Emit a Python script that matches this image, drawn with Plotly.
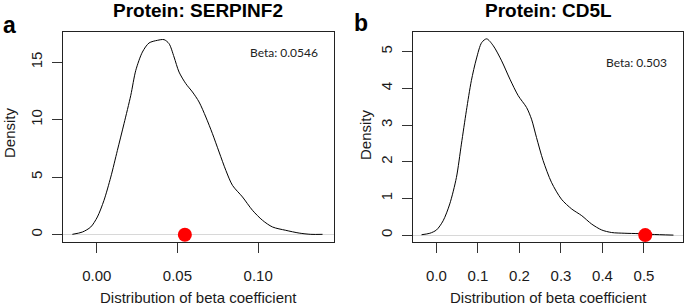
import plotly.graph_objects as go

# ---------------- data ----------------
a_title = "Protein: SERPINF2"
a_beta = 0.0546
a_x = [-0.0151, -0.0089, -0.0037, 0.0004, 0.0045, 0.0087, 0.0128, 0.0169, 0.0211, 0.0242,
       0.0283, 0.0324, 0.0376, 0.0417, 0.0448, 0.0479, 0.0510, 0.0552, 0.0593, 0.0634,
       0.0676, 0.0717, 0.0758, 0.0800, 0.0841, 0.0903, 0.0965, 0.1027, 0.1089, 0.1171,
       0.1254, 0.1326, 0.1399]
a_y = [0.03, 0.23, 0.67, 1.54, 2.99, 5.01, 7.33, 9.65, 12.12, 14.29,
       15.88, 16.67, 16.9, 16.96, 16.61, 15.45, 14.14, 13.13, 12.41, 11.54,
       10.23, 8.78, 7.19, 5.59, 4.29, 3.28, 2.12, 1.25, 0.67, 0.38,
       0.14, 0.03, 0.03]
a_xticks = [0, 0.05, 0.10]
a_xticklabels = ["0.00", "0.05", "0.10"]
a_yticks = [0, 5, 10, 15]

b_title = "Protein: CD5L"
b_beta = 0.503
b_x = [-0.036, -0.016, 0.0, 0.016, 0.032, 0.048, 0.060, 0.072, 0.084, 0.096,
       0.109, 0.121, 0.137, 0.157, 0.177, 0.197, 0.217, 0.229, 0.241, 0.257,
       0.277, 0.301, 0.326, 0.350, 0.374, 0.398, 0.422, 0.454, 0.486, 0.518,
       0.571]
b_y = [0.01, 0.05, 0.14, 0.39, 0.85, 1.57, 2.48, 3.39, 4.21, 4.8,
       5.25, 5.35, 5.16, 4.75, 4.25, 3.8, 3.48, 3.16, 2.66, 2.03,
       1.44, 0.98, 0.71, 0.53, 0.3, 0.14, 0.07, 0.05, 0.04, 0.02,
       0.0]
b_xticks = [0, 0.1, 0.2, 0.3, 0.4, 0.5]
b_xticklabels = ["0.0", "0.1", "0.2", "0.3", "0.4", "0.5"]
b_yticks = [0, 1, 2, 3, 4, 5]

x_label = "Distribution of beta coefficient"
y_label = "Density"

# ---------------- figure ----------------
W, H = 685, 305
fig = go.Figure()

line_style = dict(color="black", width=1, shape="spline", smoothing=0.8)
fig.add_trace(go.Scatter(x=a_x, y=a_y, mode="lines", line=line_style,
                         xaxis="x", yaxis="y", hoverinfo="skip"))
fig.add_trace(go.Scatter(x=[a_beta], y=[0], mode="markers", marker=dict(color="#ff0000", size=14),
                         xaxis="x", yaxis="y", cliponaxis=False))
fig.add_trace(go.Scatter(x=b_x, y=b_y, mode="lines", line=line_style,
                         xaxis="x2", yaxis="y2", hoverinfo="skip"))
fig.add_trace(go.Scatter(x=[b_beta], y=[0], mode="markers", marker=dict(color="#ff0000", size=14),
                         xaxis="x2", yaxis="y2", cliponaxis=False))

tickfont = dict(family="Liberation Sans, Arial, sans-serif", size=15, color="#1a1a1a")

def xax(domain, rng, tv, tt):
    return dict(domain=domain, range=rng, tickvals=tv, ticktext=tt, ticks="outside", ticklen=10,
                tickcolor="#333", tickwidth=1, showline=True, mirror=True, linecolor="#222",
                linewidth=1, showgrid=False, zeroline=False, tickfont=tickfont,
                ticklabelstandoff=10, fixedrange=True)

def yax(anchor, domain, rng, tv):
    return dict(anchor=anchor, domain=domain, range=rng, tickvals=tv, ticks="outside", ticklen=10,
                tickcolor="#333", tickwidth=1, showline=True, mirror=True, linecolor="#222",
                linewidth=1, showgrid=False, zeroline=True, zerolinecolor="#d8d8d8",
                zerolinewidth=1, tickangle=-90, tickfont=tickfont, ticklabelstandoff=4,
                fixedrange=True)

ydom = [(H - 241.7) / H, (H - 31.7) / H]

fig.update_layout(
    width=W, height=H, margin=dict(l=0, r=0, t=0, b=0),
    paper_bgcolor="white", plot_bgcolor="white", showlegend=False,
    xaxis=xax([63 / W, 334 / W], [-0.0209, 0.147], a_xticks, a_xticklabels),
    yaxis=yax("x", ydom, [-0.61, 17.65], a_yticks),
    xaxis2=dict(xax([412.5 / W, 683 / W], [-0.0578, 0.594], b_xticks, b_xticklabels), anchor="y2"),
    yaxis2=yax("x2", ydom, [-0.18, 5.545], b_yticks),
)

ann = []
def px(x, y):
    return x / W, (H - y) / H

title_font = dict(family="Liberation Sans, Arial, sans-serif", size=19, color="black")
letter_font = dict(family="Liberation Sans, Arial, sans-serif", size=23, color="black")
lab_font = dict(family="Liberation Sans, Arial, sans-serif", size=15, color="#1a1a1a")
beta_font = dict(family="Lato, Open Sans, sans-serif", size=12, color="#222")

for (tx, ty, text, font, angle) in [
    (198, 10.5, "<b>" + a_title + "</b>", title_font, 0),
    (548, 10.5, "<b>" + b_title + "</b>", title_font, 0),
    (9, 25, "<b>a</b>", letter_font, 0),
    (361, 23, "<b>b</b>", letter_font, 0),
    (283.5, 52, "Beta: " + str(a_beta), beta_font, 0),
    (636.7, 63, "Beta: " + str(b_beta), beta_font, 0),
    (198.5, 297, x_label, lab_font, 0),
    (548, 297, x_label, lab_font, 0),
    (9, 133, y_label, lab_font, -90),
    (365, 135, y_label, lab_font, -90),
]:
    x, y = px(tx, ty)
    ann.append(dict(x=x, y=y, xref="paper", yref="paper", text=text, showarrow=False,
                    xanchor="center", yanchor="middle", font=font, textangle=angle))

fig.update_layout(annotations=ann)

fig.write_html("out.html", config={"displayModeBar": False},
               post_script="document.body.style.margin='0';")
